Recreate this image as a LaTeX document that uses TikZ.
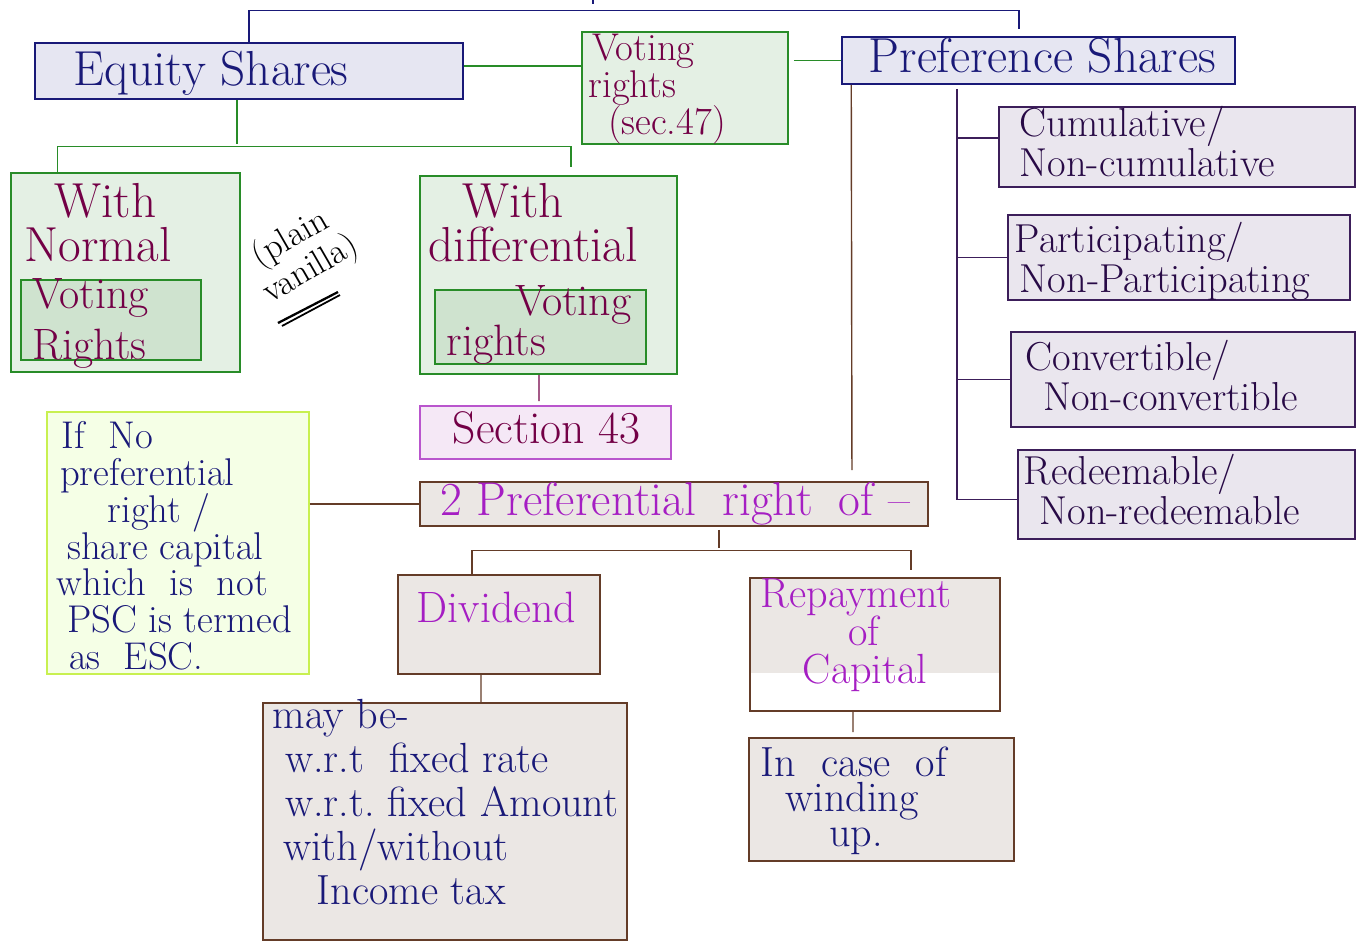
\documentclass[tikz,border=0pt]{standalone}
\usepackage{tikz}
\lineskiplimit=-100pt
\definecolor{cNavy}{RGB}{25,25,120}
\definecolor{cBlue}{RGB}{230,230,242}
\definecolor{cGreen}{RGB}{40,140,40}
\definecolor{cGreenFill}{RGB}{228,240,228}
\definecolor{cGreenIn}{RGB}{207,227,207}
\definecolor{cMaroon}{RGB}{115,0,70}
\definecolor{cLilac}{RGB}{245,232,246}
\definecolor{cOrchid}{RGB}{185,85,205}
\definecolor{cLime}{RGB}{245,255,230}
\definecolor{cLimeLine}{RGB}{200,240,80}
\definecolor{cBrown}{RGB}{100,60,40}
\definecolor{cGrey}{RGB}{235,231,228}
\definecolor{cViolet}{RGB}{165,30,195}
\definecolor{cLav}{RGB}{234,230,238}
\definecolor{cPlum}{RGB}{60,30,90}
\definecolor{cInk}{RGB}{40,10,70}
\begin{document}
\begin{tikzpicture}[x=0.02cm,y=-0.02cm,line width=0.8pt,
  sz/.style 2 args={minimum width=#1cm,minimum height=#2cm,inner sep=0pt,line width=0.9pt},
  sbox/.style={draw=cNavy,fill=cBlue},gbox/.style={draw=cGreen,fill=cGreenFill},
  rbox/.style={draw=cBrown,fill=cGrey},kbox/.style={draw=cPlum,fill=cLav},
  hand/.style={inner sep=0pt,anchor=north west,align=left},
  oneline/.style={inner sep=0pt,anchor=base west},
  gl/.style={draw=cGreen},bl/.style={draw=cBrown},kl/.style={draw=cPlum}]
\useasboundingbox (0,0) rectangle (1356,944);
\node[sbox,sz={8.56}{1.12}] (eq) at (249,71) {};
\node[oneline,text=cNavy,font=\fontsize{28}{30}\selectfont] (eqt) at (73,85) {Equity Shares};
\node[gbox,sz={4.12}{2.24}] (vr) at (685,88) {};
\node[hand,text=cMaroon,font=\fontsize{22}{21}\selectfont] (vrt) at (588,33.5) {\hspace*{2pt}Voting\\rights\\\hspace*{11pt}(sec.47)};
\node[sbox,sz={7.86}{0.94}] (ps) at (1038.5,60.5) {};
\node[oneline,text=cNavy,font=\fontsize{28}{30}\selectfont] (pst) at (868,72) {Preference Shares};
\node[gbox,sz={4.58}{3.98}] (wn) at (125.5,272.5) {};
\node[gbox,fill=cGreenIn,sz={3.6}{1.6}] (wnv) at (111,320) {};
\node[hand,text=cMaroon,font=\fontsize{28}{25}\selectfont] (wnt) at (24,183) {\hspace*{17pt}With\\Normal};
\node[hand,text=cMaroon,font=\fontsize{25}{29}\selectfont] (wnvt) at (32,278) {Voting\\Rights};
\node[gbox,sz={5.14}{3.96}] (wd) at (548.5,275) {};
\node[gbox,fill=cGreenIn,sz={4.22}{1.48}] (wdv) at (540.5,327) {};
\node[hand,text=cMaroon,font=\fontsize{28}{25}\selectfont] (wdt) at (428,183) {\hspace*{19pt}With\\differential};
\node[hand,text=cMaroon,font=\fontsize{25}{22.5}\selectfont] (wdvt) at (446,285) {\hspace*{39pt}Voting\\rights};
\node[rotate=30,inner sep=0pt,align=left,font=\fontsize{20}{21}\selectfont] (vanilla) at (302,254) {\hspace*{5pt}(plain\\vanilla)};
\draw[line width=1.3pt] (278,323) -- (338,292);
\draw[line width=1pt] (282,326) -- (340,295);
\node[draw=cOrchid,fill=cLilac,sz={5.02}{1.06}] (sec) at (545.5,432.5) {};
\node[oneline,text=cMaroon,font=\fontsize{26}{28}\selectfont] (sect) at (452,443) {Section 43};
\node[draw=cLimeLine,fill=cLime,sz={5.24}{5.24}] (esc) at (178,543) {};
\node[hand,text=cNavy,font=\fontsize{22}{21}\selectfont] (esct) at (56,420.5) {\hspace*{3pt}If~~No\\\hspace*{2pt}preferential\\\hspace*{29pt}right /\\\hspace*{6pt}share capital\\which~~is~~not\\\hspace*{6pt}PSC is termed\\\hspace*{7pt}as~~ESC.};
\node[rbox,sz={10.16}{0.88}] (pr) at (674,504) {};
\node[oneline,text=cViolet,font=\fontsize{27}{28}\selectfont] (prt) at (440,515) {2 Preferential\hspace{0.25em} right\hspace{0.25em} of --};
\node[rbox,sz={4.04}{1.98}] (dv) at (499,624.5) {};
\node[oneline,text=cViolet,font=\fontsize{25}{28}\selectfont] (dvt) at (416,622) {Dividend};
\node[rbox,sz={7.28}{4.74}] (mb) at (445,821.5) {};
\node[hand,text=cNavy,font=\fontsize{24}{25}\selectfont] (mbt) at (272,699) {may be-\\\hspace*{7pt}w.r.t~~fixed rate\\\hspace*{7pt}w.r.t.~fixed Amount\\\hspace*{6pt}with/without\\\hspace*{25pt}Income~tax};
\node[draw=cBrown,fill=white,sz={5.0}{2.66},path picture={\fill[cGrey] (path picture bounding box.north west) rectangle ([yshift=0.76cm]path picture bounding box.south east);}] (rp) at (875,644.5) {};
\node[hand,text=cViolet,font=\fontsize{24}{21.5}\selectfont] (rpt) at (760,578) {Repayment\\\hspace*{50pt}of\\\hspace*{24pt}Capital};
\node[rbox,sz={5.3}{2.46}] (wu) at (881.5,799.5) {};
\node[hand,text=cNavy,font=\fontsize{24}{20}\selectfont] (wut) at (760,746) {In~~case~~of\\\hspace*{14pt}winding\\\hspace*{39pt}up.};
\node[kbox,sz={7.12}{1.6}] (cu) at (1177,147) {};
\node[hand,text=cInk,font=\fontsize{23}{22.5}\selectfont] (cut) at (1019,106) {Cumulative/\\Non-cumulative};
\node[kbox,sz={6.84}{1.7}] (pa) at (1179,257.5) {};
\node[hand,text=cInk,font=\fontsize{23}{22.5}\selectfont] (pat) at (1014,222) {Participating/\\\hspace*{3pt}Non-Participating};
\node[kbox,sz={6.88}{1.9}] (co) at (1183,379.5) {};
\node[hand,text=cInk,font=\fontsize{23}{22.5}\selectfont] (cot) at (1025,340) {Convertible/\\\hspace*{10pt}Non-convertible};
\node[kbox,sz={6.74}{1.78}] (re) at (1186.5,494.5) {};
\node[hand,text=cInk,font=\fontsize{23}{22.5}\selectfont] (ret) at (1023,454) {Redeemable/\\\hspace*{9pt}Non-redeemable};
\coordinate (up) at (593,0);
\draw[cNavy] (up) -- ++(0,4);
\draw[cNavy] (eq.north) |- ([xshift=-0.39cm,yshift=0.52cm]ps.north) -- ([xshift=-0.39cm,yshift=0.14cm]ps.north);
\draw[gl] ([yshift=0.1cm]eq.east) -- ([yshift=0.1cm]eq.east -| vr.west);
\draw[gl] ([xshift=0.1cm]vr.east |- ps.west) -- (ps.west);
\draw[gl] ([xshift=-0.24cm]eq.south) -- ++(0,44);
\draw[gl] ([xshift=0.94cm]wn.north west) -- ++(0,-26) -| ([xshift=0.45cm,yshift=0.16cm]wd.north);
\draw[cMaroon] ([xshift=-0.19cm]wd.south) -- ([xshift=-0.13cm,yshift=0.08cm]sec.north);
\draw[bl] (esc.east |- pr.west) -- (pr.west);
\draw[bl] ([xshift=0.2cm]ps.south west) -- ([xshift=3.56cm,yshift=0.22cm]pr.north);
\draw[bl] ([xshift=0.9cm,yshift=-0.06cm]pr.south) -- ++(0,18);
\draw[bl] ([xshift=-0.54cm]dv.north) -- ++(0,-24) -| ([xshift=0.72cm,yshift=0.14cm]rp.north);
\draw[bl] ([xshift=-0.36cm]dv.south) -- ([xshift=0.72cm]mb.north);
\draw[bl] ([xshift=-0.44cm]rp.south) -- ([xshift=-0.57cm,yshift=0.1cm]wu.north);
\coordinate (pv) at ([xshift=-1.63cm,yshift=-0.08cm]ps.south);
\draw[kl] (pv) |- ([yshift=-0.1cm]re.west);
\draw[kl] ([yshift=0.18cm]cu.west -| pv) -- ([yshift=0.18cm]cu.west);
\foreach \n in {pa,co} \draw[kl] (\n.west -| pv) -- (\n.west);
\end{tikzpicture}
\end{document}
